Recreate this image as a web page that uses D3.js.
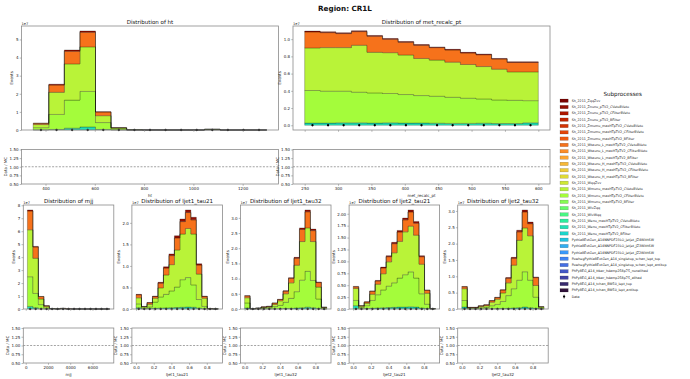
<!DOCTYPE html>
<html><head><meta charset="utf-8">
<script src="https://cdn.jsdelivr.net/npm/d3@7"></script>
<style>body{margin:0;background:#fff}svg{display:block;font-family:"DejaVu Sans",sans-serif}</style>
</head><body><svg id="c" width="690" height="379"></svg>
<script>
// ---------------- data ----------------
const legendNames = [
 "Sh_2211_ZqqZvv","Sh_2211_Znunu_pTV2_CVetoBVeto","Sh_2211_Znunu_pTV2_CFilterBVeto","Sh_2211_Znunu_pTV2_BFilter",
 "Sh_2211_Zmumu_maxHTpTV2_CVetoBVeto","Sh_2211_Zmumu_maxHTpTV2_CFilterBVeto","Sh_2211_Zmumu_maxHTpTV2_BFilter",
 "Sh_2211_Wtaunu_L_maxHTpTV2_CVetoBVeto","Sh_2211_Wtaunu_L_maxHTpTV2_CFilterBVeto","Sh_2211_Wtaunu_L_maxHTpTV2_BFilter",
 "Sh_2211_Wtaunu_H_maxHTpTV2_CVetoBVeto","Sh_2211_Wtaunu_H_maxHTpTV2_CFilterBVeto","Sh_2211_Wtaunu_H_maxHTpTV2_BFilter",
 "Sh_2211_WqqZvv","Sh_2211_Wmunu_maxHTpTV2_CVetoBVeto","Sh_2211_Wmunu_maxHTpTV2_CFilterBVeto","Sh_2211_Wmunu_maxHTpTV2_BFilter",
 "Sh_2211_WlvZqq","Sh_2211_WlvWqq","Sh_2211_Wenu_maxHTpTV2_CVetoBVeto","Sh_2211_Wenu_maxHTpTV2_CFilterBVeto","Sh_2211_Wenu_maxHTpTV2_BFilter",
 "Pythia8EvtGen_A14NNPDF23LO_jetjet_JZ4WithSW","Pythia8EvtGen_A14NNPDF23LO_jetjet_JZ3WithSW","Pythia8EvtGen_A14NNPDF23LO_jetjet_JZ2WithSW",
 "PowhegPythia8EvtGen_A14_singletop_schan_lept_top","PowhegPythia8EvtGen_A14_singletop_schan_lept_antitop",
 "PhPy8EG_A14_ttbar_hdamp258p75_nonallhad","PhPy8EG_A14_ttbar_hdamp258p75_allhad",
 "PhPy8EG_A14_tchan_BW50_lept_top","PhPy8EG_A14_tchan_BW50_lept_antitop"
];
const turboStops = ["#30123b","#4145ab","#4675ed","#39a2fc","#1bcfd4","#24eca6","#61fc6c","#a4fc3b",
                    "#d1e834","#f3c63a","#fe9b2d","#f36315","#d93806","#b11901","#7a0402"];
const nBins = 15;
// legend index (1-based) of the visible processes
const IDX_WENU_CF = 21, IDX_WMUNU_CF = 16, IDX_WMUNU_CV = 15, IDX_WTAUNU_L_CV = 8, IDX_ZNUNU_CV = 2;

// ht  (values in units of 1e7)
const ht_range = [350, 1298];
const ht_Wenu_CFilterBVeto   = [0.01,0.03,0.10,0.17,0.03,0.005,0.001,0,0,0,0,0.002,0,0,0];
const ht_Wmunu_CFilterBVeto  = [0.12,0.83,1.55,1.96,0.38,0.055,0.005,0.001,0.001,0.001,0.0005,0.025,0.0005,0.0005,0.0005];
const ht_Wmunu_CVetoBVeto    = [0.17,1.22,2.00,2.46,0.38,0.05,0.004,0.001,0.001,0.001,0.0003,0.01,0.0003,0.0003,0.0003];
const ht_Wtaunu_L_CVetoBVeto = [0.067,0.40,0.70,0.81,0.20,0.018,0.002,0.001,0,0,0.0002,0.003,0.0002,0.0002,0.0002];
const ht_Znunu_CVetoBVeto    = [0.008,0.05,0.07,0.07,0.02,0.002,0,0,0,0,0,0,0,0,0];
const ht_data = [310,2050,3580,4410,820,105,10,3,2,2,1,30,1,1,1];
const ht_xticks = [400,600,800,1000,1200];
const ht_yticks = [0,1,2,3,4,5];

// met_recalc_pt
const met_range = [250, 600];
const met_Wenu_CFilterBVeto   = [0.025,0.025,0.028,0.028,0.025,0.028,0.025,0.026,0.024,0.022,0.022,0.024,0.020,0.020,0.028];
const met_Wmunu_CFilterBVeto  = [0.379,0.371,0.368,0.356,0.351,0.341,0.332,0.319,0.313,0.303,0.292,0.282,0.274,0.270,0.258];
const met_Wmunu_CVetoBVeto    = [0.494,0.506,0.506,0.545,0.471,0.474,0.459,0.431,0.420,0.408,0.392,0.376,0.357,0.330,0.334];
const met_Wtaunu_L_CVetoBVeto = [0.186,0.174,0.163,0.159,0.187,0.156,0.148,0.153,0.145,0.141,0.133,0.137,0.118,0.110,0.110];
const met_Znunu_CVetoBVeto    = [0.010,0.010,0.010,0.010,0.009,0.009,0.009,0.008,0.008,0.008,0.008,0.008,0.007,0.007,0.007];
const met_data = [880,870,860,880,840,810,780,750,730,710,680,660,620,590,590];
const met_xticks = [250,300,350,400,450,500,550,600];
const met_yticks = [0,0.2,0.4,0.6,0.8,1.0];

// mjj
const mjj_range = [150, 7550];
const mjj_Wenu_CFilterBVeto   = [0.20,0.10,0.02,0.005,0.001,0,0.002,0,0,0,0,0,0,0,0];
const mjj_Wmunu_CFilterBVeto  = [2.29,1.10,0.32,0.075,0.014,0.005,0.028,0.005,0.002,0.002,0.001,0.001,0.001,0.001,0.001];
const mjj_Wmunu_CVetoBVeto    = [3.62,2.71,0.43,0.12,0.015,0.005,0.01,0.003,0.002,0.002,0.001,0.001,0.001,0.001,0.001];
const mjj_Wtaunu_L_CVetoBVeto = [1.45,0.87,0.19,0.057,0.009,0.004,0.009,0.002,0.001,0.001,0.001,0.001,0,0,0];
const mjj_Znunu_CVetoBVeto    = [0.08,0.05,0.01,0.003,0.001,0.001,0.001,0,0,0,0,0,0,0,0];
const mjj_data = [6100,3900,780,210,30,10,40,6,3,3,2,2,1,1,1];
const mjj_xticks = [0,2000,4000,6000];
const mjj_yticks = [0,1,2,3,4,5,6,7,8];

// ljet1_tau21
const l1t21_range = [0, 0.93];
const l1t21_Wenu_CFilterBVeto   = [0.03,0.005,0.01,0.015,0.02,0.025,0.03,0.035,0.04,0.045,0.04,0.02,0.005,0,0];
const l1t21_Wmunu_CFilterBVeto  = [0.09,0.015,0.04,0.145,0.26,0.315,0.39,0.475,0.64,0.685,0.52,0.20,0.055,0.003,0.001];
const l1t21_Wmunu_CVetoBVeto    = [0.14,0.03,0.06,0.09,0.21,0.45,0.61,0.86,1.06,1.14,1.18,0.59,0.19,0.005,0.002];
const l1t21_Wtaunu_L_CVetoBVeto = [0.07,0.008,0.036,0.04,0.11,0.16,0.21,0.28,0.29,0.37,0.33,0.21,0.04,0.002,0.001];
const l1t21_Znunu_CVetoBVeto    = [0.01,0.002,0.004,0.01,0.02,0.03,0.04,0.05,0.06,0.06,0.06,0.03,0.01,0,0];
const l1t21_data = [270,50,120,240,500,790,1030,1370,1680,1850,1710,840,240,8,3];

// ljet1_tau32
const l1t32_range = [0, 0.93];
const l1t32_Wenu_CFilterBVeto   = [0.03,0.001,0.002,0.004,0.005,0.008,0.01,0.015,0.02,0.03,0.04,0.06,0.04,0.02,0.002];
const l1t32_Wmunu_CFilterBVeto  = [0.17,0.003,0.010,0.026,0.035,0.072,0.11,0.205,0.33,0.54,0.91,1.18,0.90,0.31,0.018];
const l1t32_Wmunu_CVetoBVeto    = [0.17,0.004,0.013,0.025,0.03,0.07,0.15,0.28,0.51,0.87,1.27,1.43,1.28,0.39,0.03];
const l1t32_Wtaunu_L_CVetoBVeto = [0.06,0.002,0.004,0.012,0.016,0.045,0.043,0.088,0.15,0.23,0.40,0.53,0.36,0.15,0.009];
const l1t32_Znunu_CVetoBVeto    = [0.01,0,0.001,0.003,0.004,0.005,0.007,0.012,0.02,0.03,0.05,0.06,0.05,0.02,0.001];
const l1t32_data = [350,8,24,56,72,160,260,480,830,1370,2150,2620,2110,710,50];

// ljet2_tau21
const l2t21_range = [0, 0.93];
const l2t21_Wenu_CFilterBVeto   = [0.07,0.005,0.01,0.015,0.02,0.025,0.03,0.035,0.04,0.04,0.045,0.04,0.02,0.01,0];
const l2t21_Wmunu_CFilterBVeto  = [0.11,0.025,0.06,0.165,0.28,0.375,0.45,0.515,0.61,0.68,0.735,0.61,0.30,0.09,0.003];
const l2t21_Wmunu_CVetoBVeto    = [0.25,0.03,0.05,0.13,0.22,0.34,0.51,0.63,0.77,0.90,0.96,0.90,0.62,0.23,0.005];
const l2t21_Wtaunu_L_CVetoBVeto = [0.035,0.008,0.027,0.062,0.068,0.122,0.108,0.192,0.197,0.252,0.298,0.253,0.158,0.062,0.002];
const l2t21_Znunu_CVetoBVeto    = [0.01,0.002,0.003,0.008,0.012,0.018,0.022,0.028,0.033,0.038,0.042,0.037,0.022,0.008,0];
const l2t21_data = [380,56,120,300,480,700,900,1120,1320,1530,1660,1470,900,320,8];

// ljet2_tau32
const l2t32_range = [0, 0.93];
const l2t32_Wenu_CFilterBVeto   = [0.06,0.003,0.003,0.005,0.006,0.01,0.012,0.015,0.02,0.03,0.04,0.06,0.04,0.02,0.002];
const l2t32_Wmunu_CFilterBVeto  = [0.20,0.017,0.017,0.035,0.044,0.09,0.128,0.215,0.39,0.59,0.84,1.08,0.84,0.34,0.018];
const l2t32_Wmunu_CVetoBVeto    = [0.36,0.02,0.02,0.04,0.05,0.11,0.16,0.26,0.39,0.72,1.22,1.34,1.36,0.36,0.04];
const l2t32_Wtaunu_L_CVetoBVeto = [0.058,0.009,0.009,0.017,0.026,0.044,0.052,0.088,0.14,0.21,0.26,0.49,0.37,0.24,0.009];
const l2t32_Znunu_CVetoBVeto    = [0.012,0.001,0.001,0.003,0.004,0.006,0.008,0.012,0.02,0.03,0.05,0.06,0.05,0.02,0.001];
const l2t32_data = [550,40,40,80,100,210,290,470,770,1260,1930,2420,2130,780,56];

const tau_xticks = [0,0.2,0.4,0.6,0.8];
const l1t21_yticks = [0,0.5,1.0,1.5,2.0];
const l1t32_yticks = [0,0.5,1.0,1.5,2.0,2.5,3.0];
const l2t21_yticks = [0,0.25,0.5,0.75,1.0,1.25,1.5,1.75,2.0];
const l2t32_yticks = [0,0.5,1.0,1.5,2.0,2.5,3.0];
const ratio_yticks = [0.5,0.75,1.0,1.25,1.5];

// ---------------- drawing ----------------
const svg = d3.select("#c");
const turbo = d3.piecewise(d3.interpolateRgb, turboStops);
const colorOf = idx => turbo(1 - (idx - 1) / 30);
const TXT = "#222", FRAME = "#8a8a8a";

function layers(a,b,c,d,e){ return [[IDX_WENU_CF,a],[IDX_WMUNU_CF,b],[IDX_WMUNU_CV,c],[IDX_WTAUNU_L_CV,d],[IDX_ZNUNU_CV,e]]; }
const bw = 90.5, gap = 18.1, bl = 23.3;
const bottomBox = i => ({l: bl + i*(bw+gap), r: bl + i*(bw+gap) + bw, t: 205, b: 309, rt: 328, rb: 363});
const panels = [
 {title:"Distribution of ht", xlabel:"ht", range:ht_range, L:layers(ht_Wenu_CFilterBVeto,ht_Wmunu_CFilterBVeto,ht_Wmunu_CVetoBVeto,ht_Wtaunu_L_CVetoBVeto,ht_Znunu_CVetoBVeto),
  data:ht_data, xt:ht_xticks, xf:"d", yt:ht_yticks, yf:"d", neg:false, box:{l:21.5,r:278.5,t:26,b:130,rt:149.5,rb:184}},
 {title:"Distribution of met_recalc_pt", xlabel:"met_recalc_pt", range:met_range, L:layers(met_Wenu_CFilterBVeto,met_Wmunu_CFilterBVeto,met_Wmunu_CVetoBVeto,met_Wtaunu_L_CVetoBVeto,met_Znunu_CVetoBVeto),
  data:met_data, xt:met_xticks, xf:"d", yt:met_yticks, yf:".1f", neg:true, box:{l:293,r:550,t:26,b:130,rt:149.5,rb:184}},
 {title:"Distribution of mjj", xlabel:"mjj", range:mjj_range, L:layers(mjj_Wenu_CFilterBVeto,mjj_Wmunu_CFilterBVeto,mjj_Wmunu_CVetoBVeto,mjj_Wtaunu_L_CVetoBVeto,mjj_Znunu_CVetoBVeto),
  data:mjj_data, xt:mjj_xticks, xf:"d", yt:mjj_yticks, yf:"d", neg:false, box:bottomBox(0)},
 {title:"Distribution of ljet1_tau21", xlabel:"ljet1_tau21", range:l1t21_range, L:layers(l1t21_Wenu_CFilterBVeto,l1t21_Wmunu_CFilterBVeto,l1t21_Wmunu_CVetoBVeto,l1t21_Wtaunu_L_CVetoBVeto,l1t21_Znunu_CVetoBVeto),
  data:l1t21_data, xt:tau_xticks, xf:".1f", yt:l1t21_yticks, yf:".1f", neg:false, box:bottomBox(1)},
 {title:"Distribution of ljet1_tau32", xlabel:"ljet1_tau32", range:l1t32_range, L:layers(l1t32_Wenu_CFilterBVeto,l1t32_Wmunu_CFilterBVeto,l1t32_Wmunu_CVetoBVeto,l1t32_Wtaunu_L_CVetoBVeto,l1t32_Znunu_CVetoBVeto),
  data:l1t32_data, xt:tau_xticks, xf:".1f", yt:l1t32_yticks, yf:".1f", neg:false, box:bottomBox(2)},
 {title:"Distribution of ljet2_tau21", xlabel:"ljet2_tau21", range:l2t21_range, L:layers(l2t21_Wenu_CFilterBVeto,l2t21_Wmunu_CFilterBVeto,l2t21_Wmunu_CVetoBVeto,l2t21_Wtaunu_L_CVetoBVeto,l2t21_Znunu_CVetoBVeto),
  data:l2t21_data, xt:tau_xticks, xf:".1f", yt:l2t21_yticks, yf:".2f", neg:false, box:bottomBox(3)},
 {title:"Distribution of ljet2_tau32", xlabel:"ljet2_tau32", range:l2t32_range, L:layers(l2t32_Wenu_CFilterBVeto,l2t32_Wmunu_CFilterBVeto,l2t32_Wmunu_CVetoBVeto,l2t32_Wtaunu_L_CVetoBVeto,l2t32_Znunu_CVetoBVeto),
  data:l2t32_data, xt:tau_xticks, xf:".1f", yt:l2t32_yticks, yf:".1f", neg:false, box:bottomBox(4)}
];

svg.append("text").attr("x",345).attr("y",10.5).attr("text-anchor","middle")
  .attr("font-size",7.2).attr("font-weight","bold").attr("fill","#111").text("Region: CR1L");

function styleAxis(g){
  g.select(".domain").remove();
  g.selectAll(".tick line").attr("stroke",FRAME).attr("stroke-width",0.6);
  g.selectAll(".tick text").attr("font-size",4).attr("fill",TXT).attr("font-family",'"DejaVu Sans",sans-serif');
}
function frame(g,l,r,t,b){
  g.append("rect").attr("x",l).attr("y",t).attr("width",r-l).attr("height",b-t)
   .attr("fill","none").attr("stroke",FRAME).attr("stroke-width",0.8);
}
function ylab(g, axisG, left, text, yMid){
  const bb = axisG.node().getBBox();
  const xpos = Math.max(4.5, left + bb.x - 2.5);
  g.append("text").attr("transform",`translate(${xpos},${yMid}) rotate(-90)`)
   .attr("text-anchor","middle").attr("font-size",4).attr("fill",TXT).text(text);
}

panels.forEach(p=>{
  const g = svg.append("g");
  const B = p.box;
  const [lo,hi] = p.range, span = hi-lo;
  const edges = d3.range(nBins+1).map(i=>lo+span*i/nBins);
  const x = d3.scaleLinear().domain([lo-0.05*span, hi+0.05*span]).range([B.l,B.r]);
  const keys = p.L.map((l,k)=>"s"+k);
  const rows = d3.range(nBins).map(i=>{const o={}; p.L.forEach((l,k)=>o["s"+k]=l[1][i]); return o;});
  const stacked = d3.stack().keys(keys)(rows);
  const ymax = d3.max(rows, r=>d3.sum(keys, k=>r[k]));
  const y = d3.scaleLinear().domain(p.neg?[-0.05*ymax,1.05*ymax]:[0,1.05*ymax]).range([B.b,B.t]);
  const area = d3.area().curve(d3.curveStepAfter).x(d=>x(d.x)).y0(d=>y(d.y0)).y1(d=>y(d.y1));
  stacked.forEach((s,k)=>{
    const pts = s.map((d,i)=>({x:edges[i], y0:d[0], y1:d[1]}));
    pts.push({x:edges[nBins], y0:s[nBins-1][0], y1:s[nBins-1][1]});
    g.append("path").attr("d",area(pts)).attr("fill",colorOf(p.L[k][0]))
     .attr("stroke","#000").attr("stroke-opacity",0.45).attr("stroke-width",0.55);
  });
  // data points
  g.selectAll("circle.d").data(p.data).join("circle")
    .attr("cx",(d,i)=>x((edges[i]+edges[i+1])/2)).attr("cy",d=>y(d/1e7)).attr("r",1.15).attr("fill","#000");
  frame(g,B.l,B.r,B.t,B.b);
  const ya = g.append("g").attr("transform",`translate(${B.l},0)`)
    .call(d3.axisLeft(y).tickValues(p.yt).tickFormat(d3.format(p.yf)).tickSize(1.8).tickPadding(1.2));
  styleAxis(ya);
  const xa = g.append("g").attr("transform",`translate(0,${B.b})`)
    .call(d3.axisBottom(x).tickValues(p.xt).tickFormat("").tickSize(1.8));
  styleAxis(xa);
  ylab(g, ya, B.l, "Events", (B.t+B.b)/2);
  g.append("text").attr("x",(B.l+B.r)/2).attr("y",B.t-2.3).attr("text-anchor","middle")
   .attr("font-size",5.5).attr("fill","#111").text(p.title);
  g.append("text").attr("x",B.l).attr("y",B.t-1.2).attr("font-size",3.6).attr("fill",TXT).text("1e7");

  // ratio panel
  const yr = d3.scaleLinear().domain([0.5,1.5]).range([B.rb,B.rt]);
  g.append("line").attr("x1",B.l).attr("x2",B.r).attr("y1",yr(1)).attr("y2",yr(1))
   .attr("stroke","#666").attr("stroke-width",0.6).attr("stroke-dasharray","2,1.4");
  frame(g,B.l,B.r,B.rt,B.rb);
  const ra = g.append("g").attr("transform",`translate(${B.l},0)`)
    .call(d3.axisLeft(yr).tickValues(ratio_yticks).tickFormat(d3.format(".2f")).tickSize(1.8).tickPadding(1.2));
  styleAxis(ra);
  const rx = g.append("g").attr("transform",`translate(0,${B.rb})`)
    .call(d3.axisBottom(x).tickValues(p.xt).tickFormat(d3.format(p.xf)).tickSize(1.8).tickPadding(1.2));
  styleAxis(rx);
  ylab(g, ra, B.l, "Data / MC", (B.rt+B.rb)/2);
  g.append("text").attr("x",(B.l+B.r)/2).attr("y",B.rb+13).attr("text-anchor","middle")
   .attr("font-size",4).attr("fill",TXT).text(p.xlabel);
});

// legend
const lg = svg.append("g");
lg.append("text").attr("x",622.7).attr("y",96).attr("text-anchor","middle").attr("font-size",5.6).attr("fill","#111").text("Subprocesses");
const rowY = i => 100.7 + i*6.32;
legendNames.forEach((n,i)=>{
  lg.append("rect").attr("x",560).attr("y",rowY(i)-1.7).attr("width",8.2).attr("height",3.4)
    .attr("fill",colorOf(i+1)).attr("stroke","#000").attr("stroke-opacity",0.35).attr("stroke-width",0.4);
  lg.append("text").attr("x",571.7).attr("y",rowY(i)+1.15).attr("font-size",3.3).attr("fill",TXT).text(n);
});
const dy = rowY(legendNames.length);
lg.append("line").attr("x1",564.1).attr("x2",564.1).attr("y1",dy-2).attr("y2",dy+2).attr("stroke","#000").attr("stroke-width",0.5);
lg.append("circle").attr("cx",564.1).attr("cy",dy).attr("r",1.15).attr("fill","#000");
lg.append("text").attr("x",571.7).attr("y",dy+1.15).attr("font-size",3.3).attr("fill",TXT).text("Data");
</script></body></html>
